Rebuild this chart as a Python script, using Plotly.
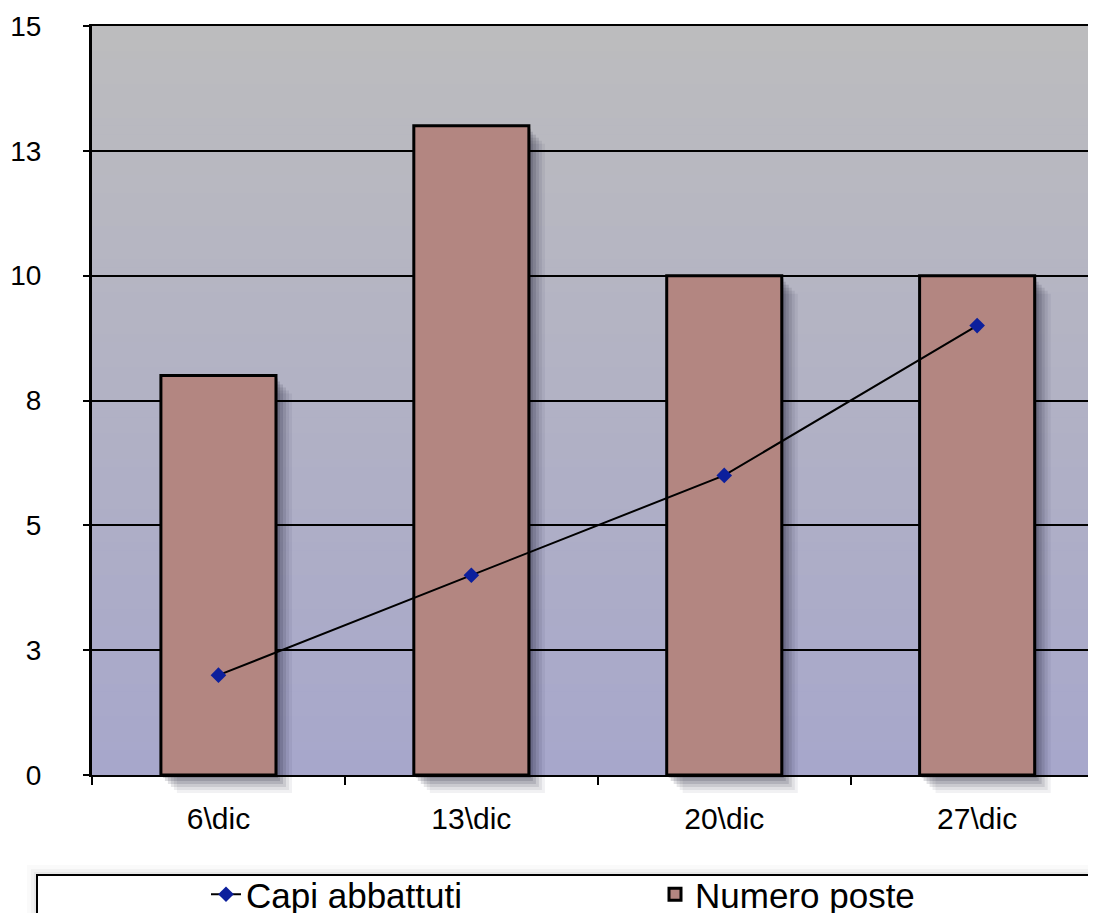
import plotly.graph_objects as go

categories = ["6\\dic", "13\\dic", "20\\dic", "27\\dic"]
numero_poste = [8, 13, 10, 10]
capi_abbattuti = [2, 4, 6, 9]
ytick_vals = [0, 2.5, 5, 7.5, 10, 12.5, 15]
ytick_text = ["0", "3", "5", "8", "10", "13", "15"]

FONT = "Liberation Sans, Arial, Helvetica, sans-serif"
PAGE_OFF = 8  # default body margin of the html page
W, H = 1096 - PAGE_OFF, 913 - PAGE_OFF
SHADOW_PAD = 20  # room below the value axis for the bar shadows
ML, MR, MT = 92 - PAGE_OFF, 0, 26 - PAGE_OFF
MB = 138 - SHADOW_PAD
PW = W - ML - MR
PH_ALL = H - MT - MB
PH = PH_ALL - SHADOW_PAD
D0 = SHADOW_PAD / PH_ALL
PLOT_L = PAGE_OFF + ML
PLOT_B_ALL = PAGE_OFF + H - MB

XR = [-0.5, 3.47]
YMAX = 15
px_per_cat = PW / (XR[1] - XR[0])
px_per_unit = PH / YMAX

BAR_W = 0.455
BAR_OFF = -BAR_W / 2

fig = go.Figure()

# soft drop shadow layers for the bars (on a hidden twin axis that reaches below the value axis)
for dx, dy, a in [(2, 3, 0.18), (4, 6, 0.15), (7, 9, 0.13), (10, 12, 0.11), (13, 15, 0.08), (16, 18, 0.06)]:
    fig.add_trace(go.Bar(
        x=categories, y=numero_poste,
        base=-dy / px_per_unit,
        width=BAR_W, offset=BAR_OFF + dx / px_per_cat,
        marker=dict(color=f"rgba(25,25,45,{a})", line=dict(width=0)),
        showlegend=False, hoverinfo="skip",
        xaxis="x", yaxis="y",
    ))

fig.add_trace(go.Bar(
    x=categories, y=numero_poste, name="Numero poste",
    width=BAR_W, offset=BAR_OFF,
    marker=dict(color="#b38681", line=dict(color="black", width=3)),
    xaxis="x2", yaxis="y2",
))

fig.add_trace(go.Scatter(
    x=categories, y=capi_abbattuti, name="Capi abbattuti",
    mode="lines+markers",
    line=dict(color="black", width=2),
    marker=dict(symbol="diamond", size=12, color="#0c1f9c"),
    xaxis="x2", yaxis="y2",
))


def py(p):
    return (PLOT_B_ALL - p) / PH_ALL


def pxx(p):
    return (p - PLOT_L) / PW


# gradient plot background
N = 90
top = (188, 188, 190)
bot = (167, 167, 203)
shapes = []
for i in range(N):
    t = i / (N - 1)
    c = tuple(round(top[j] + (bot[j] - top[j]) * t) for j in range(3))
    y1 = D0 + (1 - D0) * (1 - i / N)
    y0 = D0 + (1 - D0) * (1 - (i + 1) / N)
    shapes.append(dict(type="rect", xref="paper", yref="paper",
                       x0=0, x1=1, y0=max(D0, y0 - 0.001), y1=y1,
                       fillcolor=f"rgb{c}", line=dict(width=0), layer="below"))

# legend frame with a faint shadow
for s, a in [(1, 0.05), (3, 0.04), (6, 0.03), (10, 0.02)]:
    shapes.append(dict(type="rect", xref="paper", yref="paper",
                       x0=pxx(37 - s), x1=pxx(1090 + s), y0=py(940), y1=py(875 - s),
                       fillcolor=f"rgba(0,0,0,{a})", line=dict(width=0), layer="below"))
shapes.append(dict(type="rect", xref="paper", yref="paper",
                   x0=pxx(37), x1=pxx(1090), y0=py(940), y1=py(875),
                   fillcolor="white", line=dict(color="black", width=2), layer="below"))

fig.update_layout(
    width=W, height=H,
    margin=dict(l=ML, r=MR, t=MT, b=MB, autoexpand=False),
    paper_bgcolor="white", plot_bgcolor="rgba(0,0,0,0)",
    barmode="overlay",
    shapes=shapes,
    font=dict(family=FONT, color="black", size=28),
    legend=dict(
        orientation="h", x=pxx(206), xanchor="left",
        y=py(865), yanchor="top",
        font=dict(family=FONT, size=35, color="black"),
        bgcolor="rgba(0,0,0,0)", borderwidth=0,
        entrywidth=404, traceorder="reversed",
    ),
    xaxis=dict(type="category", range=XR, domain=[0, 1], visible=False,
               categoryorder="array", categoryarray=categories),
    yaxis=dict(range=[-SHADOW_PAD / px_per_unit, YMAX], domain=[0, 1], visible=False),
    xaxis2=dict(
        type="category", range=XR, domain=[0, 1], anchor="y2",
        categoryorder="array", categoryarray=categories,
        showline=True, linecolor="black", linewidth=2, mirror=True,
        ticks="outside", tickson="boundaries", ticklen=8, tickwidth=2, tickcolor="black",
        showgrid=False, tickfont=dict(size=30, family=FONT),
        ticklabelstandoff=16,
    ),
    yaxis2=dict(
        range=[0, YMAX], domain=[D0, 1], anchor="x2",
        tickvals=ytick_vals, ticktext=ytick_text,
        showline=True, linecolor="black", linewidth=3,
        ticks="outside", ticklen=6, tickwidth=2, tickcolor="black",
        showgrid=True, gridcolor="black", gridwidth=2,
        zeroline=False, tickfont=dict(size=28, family=FONT),
        ticklabelstandoff=36,
    ),
)

fig.write_html("out.html")
